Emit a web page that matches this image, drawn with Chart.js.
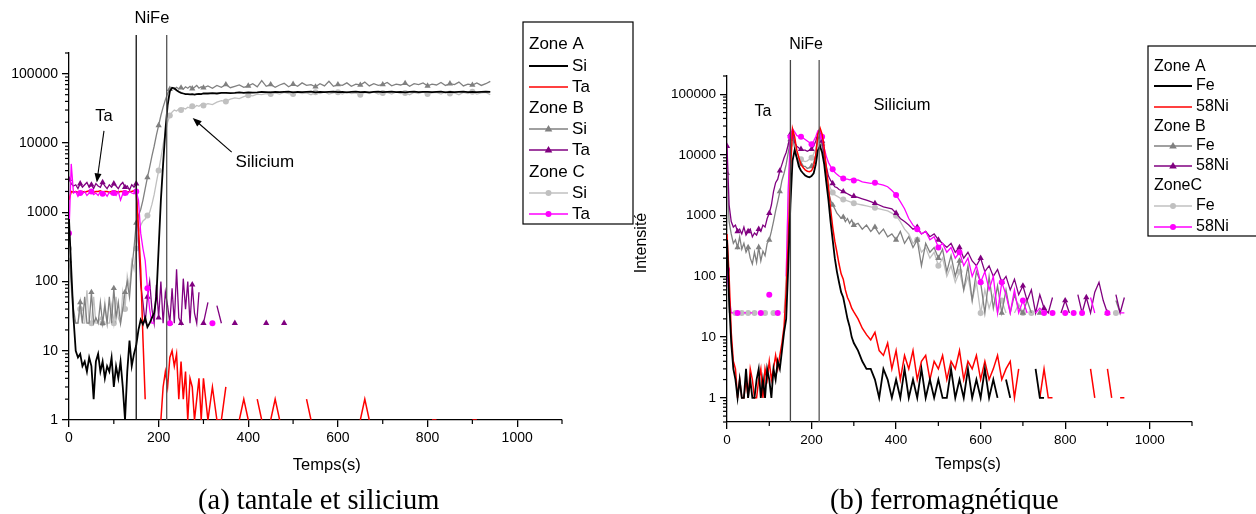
<!DOCTYPE html>
<html>
<head>
<meta charset="utf-8">
<script src="https://cdn.jsdelivr.net/npm/chart.js@4.4.1/dist/chart.umd.min.js"></script>
<style>
  body { margin: 0; background: #fff; }
  #wrap { position: relative; width: 1256px; height: 514px; overflow: hidden; }
  canvas { position: absolute; top: 0; }
  #left { left: 0; }
  #right { left: 600px; }
  .cap { position: absolute; top: 485px; font-family: 'Liberation Serif', serif; font-size: 28.5px; line-height: 30px; white-space: nowrap; color: #000; }
</style>
</head>
<body>
<div id="wrap">
  <canvas id="left" width="640" height="514"></canvas>
  <canvas id="right" width="656" height="514"></canvas>
  <div class="cap" style="left:198px">(a) tantale et silicium</div>
  <div class="cap" style="left:830px">(b) ferromagnétique</div>
</div>
<script>
// time axis (s), shared by every series of both panels
const times = [
  0, 5, 10, 15, 20, 25, 30, 35, 40, 45,
  50, 55, 60, 65, 70, 75, 80, 85, 90, 95,
  100, 105, 110, 115, 120, 125, 130, 135, 140, 145,
  150, 155, 160, 165, 170, 175, 180, 185, 190, 195,
  200, 205, 210, 215, 220, 225, 230, 235, 240, 245,
  250, 255, 260, 265, 270, 275, 280, 285, 290, 295,
  300, 310, 320, 330, 340, 350, 360, 370, 380, 390,
  400, 410, 420, 430, 440, 450, 460, 470, 480, 490,
  500, 510, 520, 530, 540, 550, 560, 570, 580, 590,
  600, 610, 620, 630, 640, 650, 660, 670, 680, 690,
  700, 710, 720, 730, 740, 750, 760, 770, 780, 790,
  800, 810, 820, 830, 840, 850, 860, 870, 880, 890,
  900, 910, 920, 930, 940
];

// ---- (a) tantale et silicium ----
const siA = [
  800, 150, 30, 10, 8, 9, 6, 7, 5, 8,
  6, 2, 7, 9, 5, 7, 4, 6, 5, 8,
  3, 6, 4, 7, 3, 1, 5, 14, 6, 9,
  12, 20, 28, 24, 30, 22, 25, 30, 35, 60,
  300, 1500, 5000, 15000, 35000, 56000, 63000, 62000, 58000, 55000,
  53000, 52000, 51000, 51000, 50500, 51000, 50000, 51000, 51500, 51000,
  52000, 52000, 52500, 52000, 53000, 53000, 52500, 53000, 54000, 53000,
  54000, 53500, 54000, 55000, 54500, 54000, 55000, 54500, 55000, 55500,
  54000, 55000, 54500, 55000, 55500, 54000, 55000, 54500, 55000, 55500,
  54500, 55000, 54000, 55000, 55500, 54500, 55000, 54000, 55000, 55500,
  54500, 55000, 55500, 54500, 55000, 54000, 55000, 55500, 54500, 55000,
  55000, 54500, 55000, 55500, 54000, 55000, 54500, 55000, 55500, 54500,
  55000, 54500, 55000, 55500, 55000
];
const taA = [
  1500, 2000, 1950, 2000, 1950, 2000, 2000, 1950, 2000, 2050,
  2000, 1950, 2000, 2000, 2050, 1950, 2000, 2000, 1950, 2000,
  2050, 2000, 1950, 2000, 2000, 2050, 1950, 2000, 2000, 2050,
  1900, 600, 150, 15, 2, null, null, null, null, null,
  null, 1, 3, 5, 3, 8, 10, 6, 9, 2,
  7, 2, 5, 1, 4, 3, 1, 2, 4, 1,
  4, 1, 3, 1, 1, 3, null, null, 1, 2,
  1, null, 2, 1, null, 1, 2, 1, null, null,
  null, null, null, 2, 1, null, 1, null, null, null,
  null, null, null, null, null, 1, 2, 1, null, 1,
  null, null, null, null, null, null, null, null, null, null,
  null, 1, 1, null, null, null, null, null, null, null,
  1, 1, null, null, null
];
const siB = [
  200, 100, 40, 25, 25, 50, 25, 60, 25, 25,
  70, 25, 30, 25, 50, 25, 45, 25, 60, 25,
  80, 30, 50, 25, 40, 70, 100, 60, 150, 300,
  700, 900, 1100, 1500, 2200, 3200, 4500, 6500, 9000, 13000,
  18000, 25000, 33000, 42000, 52000, 60000, 62000, 60000, 64000, 61000,
  63000, 60000, 65000, 62000, 66000, 61000, 64000, 68000, 62000, 65000,
  63000, 67000, 62000, 68000, 64000, 70000, 63000, 66000, 69000, 64000,
  67000, 72000, 65000, 80000, 66000, 70000, 64000, 69000, 73000, 65000,
  71000, 66000, 74000, 68000, 70000, 65000, 72000, 67000, 78000, 66000,
  70000, 68000, 74000, 66000, 71000, 69000, 76000, 67000, 72000, 68000,
  70000, 75000, 67000, 71000, 69000, 73000, 66000, 72000, 70000, 74000,
  67000, 71000, 69000, 75000, 68000, 72000, 70000, 76000, 67000, 71000,
  69000, 74000, 68000, 72000, 78000
];
const taB = [
  3000, 2600, 2400, 2500, 2200, 2600, 2300, 2500, 2700, 2300,
  2500, 2200, 2600, 2400, 2300, 2700, 2400, 2200, 2500, 2300,
  2600, 2400, 2200, 2500, 2700, 2300, 2400, 2100, 2500, 2300,
  2600, 400, 90, 50, 25, 60, 100, 40, 25, 90,
  30, 100, 25, 70, 45, 25, 80, 25, 150, 30,
  25, 110, 40, 100, 25, 90, 35, 25, 70, null,
  25, 50, null, 45, 25, null, null, 25, null, null,
  null, null, null, null, 25, null, null, null, 25, null,
  null, null, null, null, null, null, null, null, null, null,
  null, null, null, null, null, null, null, null, null, null,
  null, null, null, null, null, null, null, null, null, null,
  null, null, null, null, null, null, null, null, null, null,
  null, null, null, null, null
];
const siC = [
  300, 80, 30, 25, 25, 40, 25, 25, 75, 25,
  25, 60, 25, 25, 30, 25, 50, 25, 25, 45,
  25, 60, 30, 25, 70, 40, 120, 80, 200, 150,
  300, 500, 650, 750, 800, 900, 1000, 1300, 1800, 2700,
  4000, 6000, 9500, 14000, 20000, 25000, 28000, 30000, 29000, 31000,
  30000, 32000, 31000, 33000, 32000, 34000, 33000, 35000, 34000, 36000,
  35000, 37000, 36000, 39000, 41000, 40000, 43000, 45000, 44000, 47000,
  49000, 48000, 51000, 50000, 52000, 51000, 53000, 51000, 54000, 52000,
  51000, 54000, 52000, 53000, 50000, 54000, 52000, 55000, 51000, 53000,
  54000, 51000, 55000, 52000, 53000, 50000, 54000, 52000, 55000, 51000,
  53000, 54000, 51000, 55000, 52000, 53000, 50000, 54000, 52000, 55000,
  51000, 53000, 54000, 51000, 55000, 52000, 53000, 50000, 54000, 52000,
  55000, 51000, 53000, 54000, 50000
];
const taC = [
  500, 5000, 1900, 2000, 1700, 1900, 1850, 2000, 1750, 1900,
  2000, 1800, 1900, 1750, 2000, 1850, 1900, 1700, 1950, 1800,
  1900, 1750, 2000, 1500, 1850, 1900, 1800, 2000, 1900, 1850,
  2000, 1500, 500, 300, 200, 80, 40, 25, 25, null,
  null, null, null, null, 25, 25, null, null, null, null,
  null, null, null, null, null, null, null, null, null, null,
  null, null, 25, null, null, null, null, null, null, null,
  null, null, null, null, null, null, null, null, null, null,
  null, null, null, null, null, null, null, null, null, null,
  null, null, null, null, null, null, null, null, null, null,
  null, null, null, null, null, null, null, null, null, null,
  null, null, null, null, null, null, null, null, null, null,
  null, null, null, null, null
];

// ---- (b) ferromagnétique ----
const feA = [
  400, 40, 8, 3, 2, 1, 2, 1, 1, 3,
  1, 2, 1, 1, 2, 3, 1, 2, 1, 3,
  2, 1, 3, 2, 4, 3, 6, 12, 20, 150,
  1500, 8000, 12000, 9000, 6500, 5500, 5000, 4600, 4400, 4300,
  4500, 5000, 7000, 12000, 14000, 11000, 7000, 3500, 1800, 800,
  400, 200, 120, 80, 55, 45, 30, 20, 15, 10,
  8, 6, 4, 3, 3, 2, 1, 3, 2, 1,
  2, 1, 3, 1, 2, 1, 3, 1, 2, 1,
  2, 1, 1, 3, 1, 2, 1, 3, 1, 2,
  1, 3, 1, 2, 1, null, 2, 1, null, 1,
  null, null, null, 3, 1, 1, null, null, null, null,
  null, null, null, null, null, null, null, null, null, null,
  null, null, null, null, null
];
const niA = [
  500, 100, 12, 4, 3, 1, 2, 1, 1, 2,
  1, 3, 2, 1, 1, 2, 3, 1, 3, 2,
  4, 2, 3, 5, 3, 5, 8, 15, 60, 400,
  5000, 27000, 20000, 12000, 9000, 7000, 6200, 5700, 5400, 5300,
  5500, 6500, 10000, 22000, 28000, 22000, 13000, 6000, 3000, 1300,
  650, 380, 250, 160, 110, 90, 60, 45, 38, 30,
  26, 20, 14, 11, 9, 12, 6, 5, 8, 3,
  6, 2, 5, 3, 6, 2, 4, 5, 2, 4,
  3, 5, 2, 4, 3, 6, 2, 4, 3, 5,
  2, 4, 2, 3, 5, 2, 3, 4, 1, 3,
  null, 1, null, null, 1, 3, 1, 1, null, 1,
  null, null, 1, null, null, null, 3, 1, null, null,
  3, 1, null, 1, 1
];
const feB = [
  5000, 800, 500, 350, 400, 300, 450, 280, 350, 250,
  300, 200, 160, 250, 170, 300, 180, 260, 220, 350,
  400, 550, 800, 1200, 1700, 2500, 3800, 5000, 7000, 11000,
  18000, 20000, 13000, 9000, 7500, 7000, 6500, 6500, 6000, 6200,
  6500, 7500, 10000, 18000, 22000, 15000, 8000, 4000, 2500, 1800,
  1500, 1300, 1100, 1000, 900, 950, 800, 900, 750, 850,
  700, 750, 600, 700, 550, 650, 500, 600, 450, 500,
  400, 550, 350, 450, 300, 400, 150, 350, 250, 300,
  200, 280, 120, 220, 100, 180, 60, 150, 40, 120,
  80, 25, 100, 30, 70, 25, 60, 25, 50, 30,
  25, 40, 25, null, 25, null, null, null, null, null,
  null, null, null, null, null, null, null, null, null, null,
  null, null, 40, 25, null
];
const niB = [
  14000, 1500, 800, 650, 700, 550, 600, 500, 650, 480,
  550, 600, 450, 520, 480, 600, 550, 700, 650, 900,
  1100, 1500, 2500, 3500, 4000, 5500, 7000, 9000, 11000, 15000,
  22000, 25000, 16000, 14000, 13000, 12500, 12000, 12000, 11500, 12000,
  12500, 14000, 17000, 23000, 25000, 17000, 10000, 6500, 4500, 3800,
  3400, 3000, 2900, 2700, 2600, 2500, 2400, 2300, 2200, 2100,
  2100, 2000, 1900, 1800, 1700, 1600, 1500, 1400, 1350, 1300,
  1100, 900, 800, 700, 600, 650, 500, 550, 450, 500,
  400, 350, 300, 350, 250, 300, 200, 250, 180, 150,
  200, 120, 150, 100, 130, 80, 100, 60, 90, 50,
  70, 40, 60, 25, 50, 30, 25, 45, null, 25,
  40, 25, null, 50, 25, 45, 25, 55, 80, 40,
  25, null, 50, 25, 45
];
const feC = [
  120, 25, null, null, 25, null, null, 25, null, null,
  25, null, null, 25, null, null, null, null, 25, null,
  null, null, 25, null, null, null, null, 25, 100, 2500,
  15000, 22000, 15000, 11000, 9500, 8500, 8000, 7800, 8000, 8500,
  9000, 10500, 13000, 18000, 20000, 15000, 9000, 5000, 3500, 2800,
  2400, 2200, 2100, 2000, 1900, 1850, 1800, 1750, 1700, 1650,
  1600, 1550, 1500, 1450, 1400, 1350, 1300, 1250, 1200, 1100,
  1000, 800, 600, 500, 350, 400, 250, 300, 200, 250,
  150, 200, 100, 150, 80, 120, 60, 100, 40, 80,
  25, 60, 30, 50, 25, 40, 25, null, 25, 35,
  25, null, 25, null, null, null, null, null, null, null,
  null, null, null, null, null, null, null, null, null, null,
  null, null, 25, null, null
];
const niC = [
  130, 50, 25, 25, null, 25, 25, null, 25, 25,
  null, 25, 25, null, null, null, 25, null, null, null,
  50, null, null, null, 25, null, null, null, 100, 3000,
  20000, 27000, 24000, 21000, 20000, 20000, 19000, 18000, 17000, 16000,
  15000, 17000, 20000, 25000, 26000, 20000, 13000, 9500, 7500, 6500,
  5800, 5200, 4800, 4500, 4300, 4100, 4000, 4000, 3900, 4000,
  3800, 3900, 3600, 3500, 3400, 3500, 3300, 3200, 3000, 2600,
  2200, 1700, 1300, 900, 700, 600, 500, 550, 400, 450,
  300, 350, 250, 300, 200, 250, 150, 200, 100, 150,
  80, 120, 60, 100, 25, 80, 50, 25, 60, 25,
  40, 25, null, 25, 30, 25, null, 25, null, null,
  25, null, 25, null, 25, null, 45, 25, null, null,
  25, null, null, 25, 25
];

Chart.defaults.font.family = "'Liberation Sans', Arial, sans-serif";
Chart.defaults.color = '#000';

function series(label, zone, values, color, marker, width, order) {
  return {
    label: label, zone: zone, marker: marker, order: order,
    data: times.map((t, i) => ({ x: t, y: values[i] })),
    borderColor: color, backgroundColor: color, pointBackgroundColor: color,
    borderWidth: width, tension: 0, spanGaps: false, pointBorderWidth: 0,
    pointStyle: marker || 'circle',
    pointRadius: ctx => {
      if (!marker || ctx.dataIndex == null) return 0;
      const i = ctx.dataIndex;
      if (values[i] == null) return 0;
      const lone = values[i - 1] == null && values[i + 1] == null;
      return (i % 5 === 0 || lone) ? (marker === 'triangle' ? 3.6 : 3) : 0;
    }
  };
}

// vertical lines, labels, arrows, minor ticks and the zone legend
const marks = {
  id: 'marks',
  afterDatasetsDraw(chart, args, o) {
    const ctx = chart.ctx, a = chart.chartArea, x = chart.scales.x, y = chart.scales.y;
    const line = (x1, y1, x2, y2) => { ctx.beginPath(); ctx.moveTo(x1, y1); ctx.lineTo(x2, y2); ctx.stroke(); };
    ctx.save();
    ctx.strokeStyle = '#000';
    ctx.lineWidth = 1.2;
    o.xMinor.forEach(v => { const p = x.getPixelForValue(v); line(p, a.bottom, p, a.bottom + 4); });
    for (let e = -1; e <= 5; e++) {
      for (let m = 2; m <= 9; m++) {
        const v = m * Math.pow(10, e);
        if (v < y.min || v > y.max) continue;
        const p = y.getPixelForValue(v);
        line(a.left - 4, p, a.left, p);
      }
    }
    ctx.lineWidth = 1.3;
    o.vlines.forEach(l => {
      ctx.strokeStyle = l.color;
      const p = x.getPixelForValue(l.x);
      line(p, a.top - o.vTop, p, a.bottom);
    });
    ctx.fillStyle = '#000';
    ctx.textBaseline = 'middle';
    ctx.textAlign = 'center';
    o.texts.forEach(t => {
      ctx.font = t.size + "px 'Liberation Sans', Arial, sans-serif";
      if (t.rot) {
        ctx.save();
        ctx.translate(t.px, t.py);
        ctx.rotate(-Math.PI / 2);
        ctx.fillText(t.t, 0, 0);
        ctx.restore();
        return;
      }
      const px = x.getPixelForValue(t.x);
      const py = t.y != null ? y.getPixelForValue(t.y) : (t.below ? a.bottom + t.dy : a.top + t.dy);
      ctx.fillText(t.t, px, py);
    });
    ctx.strokeStyle = '#000';
    ctx.lineWidth = 1.1;
    o.arrows.forEach(r => {
      const x1 = x.getPixelForValue(r.x1), y1 = y.getPixelForValue(r.y1);
      const x2 = x.getPixelForValue(r.x2), y2 = y.getPixelForValue(r.y2);
      const ang = Math.atan2(y2 - y1, x2 - x1);
      line(x1, y1, x2 - 6 * Math.cos(ang), y2 - 6 * Math.sin(ang));
      ctx.beginPath();
      ctx.moveTo(x2, y2);
      ctx.lineTo(x2 - 9 * Math.cos(ang) + 3.5 * Math.sin(ang), y2 - 9 * Math.sin(ang) - 3.5 * Math.cos(ang));
      ctx.lineTo(x2 - 9 * Math.cos(ang) - 3.5 * Math.sin(ang), y2 - 9 * Math.sin(ang) + 3.5 * Math.cos(ang));
      ctx.closePath();
      ctx.fill();
    });
    // legend
    const L = o.legend;
    ctx.strokeStyle = '#000';
    ctx.lineWidth = 1.2;
    ctx.strokeRect(L.x, L.y, L.w, L.h);
    ctx.font = L.size + "px 'Liberation Sans', Arial, sans-serif";
    ctx.textAlign = 'left';
    let row = 0, zone = null;
    chart.data.datasets.forEach(ds => {
      if (ds.zone !== zone) {
        zone = ds.zone;
        ctx.fillStyle = '#000';
        ctx.fillText(zone, L.lineX, L.rows[row++]);
      }
      const ry = L.rows[row++];
      ctx.strokeStyle = ds.borderColor;
      ctx.lineWidth = ds.borderWidth;
      line(L.lineX, ry, L.lineX + L.len, ry);
      ctx.fillStyle = ds.borderColor;
      const cx = L.lineX + L.len / 2;
      if (ds.marker === 'triangle') {
        ctx.beginPath();
        ctx.moveTo(cx, ry - 4); ctx.lineTo(cx + 3.8, ry + 2.5); ctx.lineTo(cx - 3.8, ry + 2.5);
        ctx.closePath(); ctx.fill();
      } else if (ds.marker === 'circle') {
        ctx.beginPath(); ctx.arc(cx, ry, 3, 0, Math.PI * 2); ctx.fill();
      }
      ctx.fillStyle = '#000';
      ctx.fillText(ds.label, L.textX, ry);
    });
    ctx.restore();
  }
};

function panel(id, datasets, p) {
  return new Chart(document.getElementById(id), {
    type: 'line',
    data: { datasets: datasets },
    plugins: [marks],
    options: {
      responsive: false, animation: false, devicePixelRatio: 1,
      layout: { padding: { left: 0, top: p.top, right: p.right, bottom: 0 } },
      plugins: { legend: { display: false }, tooltip: { enabled: false }, marks: p.marks },
      scales: {
        x: {
          type: 'linear', min: 0, max: 1100,
          afterFit: s => { s.height = p.xH; },
          border: { color: '#000', width: 1.3 },
          grid: { drawOnChartArea: false, drawTicks: true, tickLength: 7, color: '#000', lineWidth: 1.3 },
          ticks: { stepSize: 200, includeBounds: false, maxRotation: 0, padding: 3, color: '#000',
            font: { size: p.fs }, callback: v => String(v) }
        },
        y: {
          type: 'logarithmic', min: p.yMin, max: 200000,
          afterFit: s => { s.width = p.yW; },
          afterBuildTicks: s => { s.ticks = [1, 10, 100, 1000, 10000, 100000].map(v => ({ value: v })); },
          border: { color: '#000', width: 1.3 },
          grid: { drawOnChartArea: false, drawTicks: true, tickLength: 7, color: '#000', lineWidth: 1.3 },
          ticks: { callback: v => String(v), padding: 4, color: '#000', font: { size: p.fs } }
        }
      }
    }
  });
}

panel('left', [
  series('Si', 'Zone A', siA, '#000000', null, 1.8, 0),
  series('Ta', 'Zone A', taA, '#ff0000', null, 1.5, 2),
  series('Si', 'Zone B', siB, '#808080', 'triangle', 1.3, 3),
  series('Ta', 'Zone B', taB, '#800080', 'triangle', 1.3, 4),
  series('Si', 'Zone C', siC, '#c0c0c0', 'circle', 1.3, 5),
  series('Ta', 'Zone C', taC, '#ff00ff', 'circle', 1.3, 1)
], {
  top: 53, right: 78, xH: 94, yW: 69, yMin: 1, fs: 14,
  marks: {
    xMinor: [100, 300, 500, 700, 900, 1100],
    vlines: [{ x: 150, color: '#111' }, { x: 218, color: '#555' }], vTop: 18,
    texts: [
      { t: 'NiFe', x: 185, dy: -35, size: 16.5 },
      { t: 'Ta', x: 78, y: 24000, size: 16.5 },
      { t: 'Silicium', x: 437, y: 5300, size: 17 },
      { t: 'Temps(s)', x: 575, dy: 45, below: true, size: 16.5 }
    ],
    arrows: [
      { x1: 78, y1: 15000, x2: 62, y2: 2700 },
      { x1: 363, y1: 7400, x2: 276, y2: 23000 }
    ],
    legend: { x: 523, y: 22, w: 110, h: 202, lineX: 529, len: 39, textX: 572, size: 17,
      rows: [44, 66, 87, 108, 129, 150, 172, 193, 214] }
  }
});

panel('right', [
  series('Fe', 'Zone A', feA, '#000000', null, 1.8, 0),
  series('58Ni', 'Zone A', niA, '#ff0000', null, 1.5, 1),
  series('Fe', 'Zone B', feB, '#808080', 'triangle', 1.3, 4),
  series('58Ni', 'Zone B', niB, '#800080', 'triangle', 1.3, 3),
  series('Fe', 'ZoneC', feC, '#c0c0c0', 'circle', 1.3, 5),
  series('58Ni', 'ZoneC', niC, '#ff00ff', 'circle', 1.3, 2)
], {
  top: 76, right: 64, xH: 92, yW: 127, yMin: 0.4, fs: 13.5,
  marks: {
    xMinor: [100, 300, 500, 700, 900, 1100],
    vlines: [{ x: 150, color: '#444' }, { x: 218, color: '#555' }], vTop: 16,
    texts: [
      { t: 'NiFe', x: 187, dy: -31, size: 16 },
      { t: 'Ta', x: 85, y: 51600, size: 16 },
      { t: 'Silicium', x: 414, y: 64500, size: 16.5 },
      { t: 'Temps(s)', x: 570, dy: 43, below: true, size: 16 },
      { t: 'Intensité', rot: true, px: 42, py: 243, size: 16 }
    ],
    arrows: [],
    legend: { x: 548, y: 46, w: 130, h: 190, lineX: 554, len: 38, textX: 596, size: 16,
      rows: [67, 86, 107, 127, 146, 166, 186, 206, 227] }
  }
});
</script>
</body>
</html>
